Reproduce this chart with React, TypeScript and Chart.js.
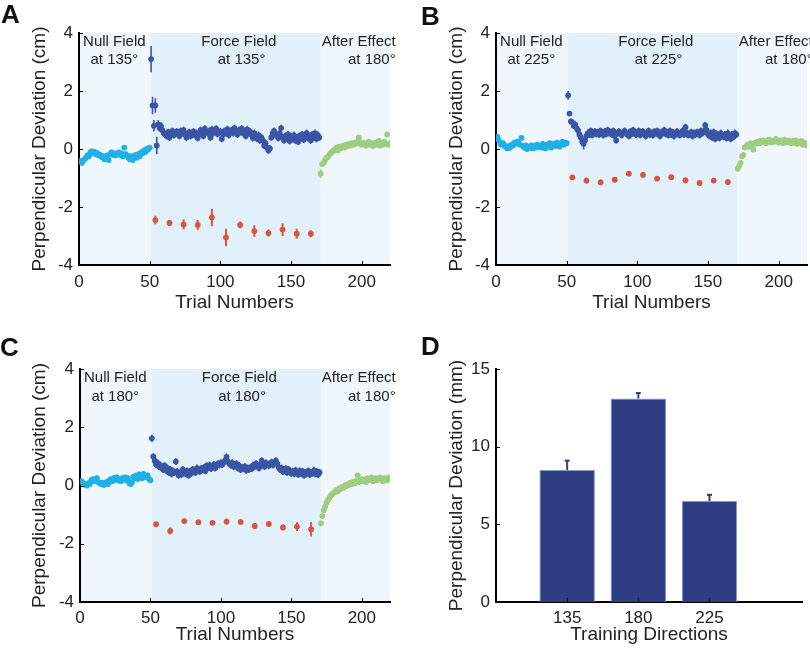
import React, { useEffect, useRef } from 'react';
import { Chart, registerables } from 'chart.js';
Chart.register(...registerables);

const AXIS_FONT = "'Liberation Sans', Arial, Helvetica, sans-serif";
const TEXT_COLOR = '#222222';

// ---------------- shared axis data ----------------
const trialTicks = [0, 50, 100, 150, 200];
const deviationTicks = [-4, -2, 0, 2, 4];
const probeTrials = [54, 64, 74, 84, 94, 104, 114, 124, 134, 144, 154, 164];
const nullStart = 1;
const forceStart = 51;
const afterStart = 171;

// ---------------- Panel A (135°) ----------------
const nullA = [
  -0.42, -0.48, -0.40, -0.35, -0.30, -0.22, -0.25, -0.12, -0.08, -0.15,
  -0.10, -0.18, -0.14, -0.22, -0.20, -0.28, -0.25, -0.35, -0.30, -0.22,
  -0.38, -0.18, -0.12, -0.20, -0.15, -0.22, -0.18, -0.12, -0.20, -0.15,
  -0.25, 0.05, -0.18, -0.22, -0.30, -0.35, -0.25, -0.38, -0.28, -0.20,
  -0.30, -0.18, -0.25, -0.12, -0.15, -0.05, -0.10, 0.00, -0.02, 0.05,
];
const forceA = [
  3.10, 1.50, 0.80, 1.50, 0.12, 0.85, 0.72, 0.80, 0.65, 0.55,
  0.50, 0.45, 0.58, 0.40, 0.55, 0.62, 0.48, 0.52, 0.60, 0.55,
  0.45, 0.62, 0.55, 0.65, 0.50, 0.40, 0.52, 0.58, 0.45, 0.55,
  0.60, 0.48, 0.55, 0.38, 0.50, 0.65, 0.55, 0.45, 0.70, 0.60,
  0.55, 0.62, 0.40, 0.68, 0.55, 0.62, 0.70, 0.52, 0.58, 0.60,
  0.35, 0.50, 0.62, 0.55, 0.68, 0.48, 0.60, 0.65, 0.55, 0.72,
  0.62, 0.50, 0.65, 0.58, 0.70, 0.55, 0.62, 0.45, 0.68, 0.55,
  0.60, 0.50, 0.38, 0.55, 0.42, 0.35, 0.48, 0.30, 0.40, 0.30,
  0.12, 0.20, 0.05, -0.05, 0.02, 0.40, 0.55, 0.62, 0.50, 0.45,
  0.38, 0.55, 0.72, 0.40, 0.30, 0.45, 0.35, 0.50, 0.28, 0.42,
  0.35, 0.48, 0.30, 0.40, 0.25, 0.45, 0.38, 0.50, 0.32, 0.42,
  0.55, 0.38, 0.45, 0.30, 0.50, 0.40, 0.55, 0.35, 0.48, 0.40,
];
const forceLeadErrA = [0.45, 0.3, 0.2, 0.25, 0.3, 0.15];
const afterA = [
  -0.85, -0.52, -0.48, -0.38, -0.30, -0.28, -0.20, -0.15, -0.10, -0.05,
  -0.02, 0.05, -0.05, 0.08, 0.02, 0.10, 0.12, 0.05, 0.15, 0.10,
  0.18, 0.12, 0.20, 0.15, 0.22, 0.18, 0.25, 0.40, 0.20, 0.15,
  0.22, 0.18, 0.12, 0.20, 0.25, 0.15, 0.20, 0.10, 0.18, 0.22,
  0.15, 0.28, 0.12, 0.20, 0.15, 0.25, 0.18, 0.50, 0.15, 0.20,
];
const afterLeadErrA = [0.15];
const probeA = [-2.45, -2.55, -2.60, -2.62, -2.36, -3.05, -2.62, -2.83, -2.90, -2.78, -2.92, -2.92];
const probeErrA = [0.15, 0.1, 0.17, 0.17, 0.3, 0.3, 0.12, 0.2, 0.12, 0.22, 0.17, 0.12];

// ---------------- Panel B (225°) ----------------
const nullB = [
  0.42, 0.30, 0.18, 0.15, 0.20, 0.12, 0.08, 0.02, 0.10, 0.05,
  0.15, 0.12, 0.22, 0.18, 0.25, 0.20, 0.15, 0.38, 0.10, 0.05,
  0.12, 0.00, 0.08, 0.05, 0.12, 0.02, 0.10, 0.05, 0.15, 0.08,
  0.10, 0.05, 0.18, 0.12, 0.02, 0.15, 0.08, 0.20, 0.05, 0.12,
  0.18, 0.10, 0.22, 0.15, 0.08, 0.20, 0.25, 0.15, 0.22, 0.20,
];
const forceB = [
  1.85, 1.22, 0.95, 0.92, 0.80, 0.85, 0.72, 0.65, 0.50, 0.40,
  0.25, 0.18, 0.30, 0.45, 0.55, 0.50, 0.62, 0.48, 0.55, 0.60,
  0.52, 0.58, 0.50, 0.62, 0.55, 0.48, 0.60, 0.52, 0.65, 0.55,
  0.58, 0.50, 0.62, 0.45, 0.30, 0.55, 0.60, 0.52, 0.48, 0.58,
  0.62, 0.55, 0.50, 0.45, 0.60, 0.52, 0.65, 0.58, 0.50, 0.55,
  0.62, 0.48, 0.55, 0.60, 0.52, 0.45, 0.58, 0.62, 0.50, 0.55,
  0.48, 0.60, 0.55, 0.62, 0.50, 0.45, 0.58, 0.55, 0.65, 0.52,
  0.55, 0.48, 0.62, 0.50, 0.58, 0.45, 0.55, 0.60, 0.52, 0.48,
  0.55, 0.62, 0.50, 0.75, 0.55, 0.48, 0.52, 0.58, 0.45, 0.55,
  0.50, 0.58, 0.55, 0.48, 0.62, 0.55, 0.60, 0.82, 0.65, 0.50,
  0.45, 0.55, 0.40, 0.58, 0.35, 0.52, 0.45, 0.38, 0.55, 0.48,
  0.42, 0.50, 0.38, 0.55, 0.45, 0.35, 0.50, 0.42, 0.55, 0.50,
];
const forceLeadErrB = [0.15, 0.08, 0.1, 0.1, 0.1, 0.1, 0.1, 0.1, 0.12, 0.15, 0.15, 0.2];
const afterB = [
  -0.68, -0.58, -0.48, -0.25, -0.20, 0.05, 0.10, 0.15, 0.08, 0.20,
  0.15, -0.02, 0.22, 0.18, 0.25, 0.20, 0.28, 0.22, 0.30, 0.25,
  0.20, 0.28, 0.32, 0.25, 0.22, 0.30, 0.25, 0.35, 0.28, 0.22,
  0.30, 0.25, 0.20, 0.32, 0.28, 0.22, 0.30, 0.25, 0.20, 0.28,
  0.22, 0.30, 0.18, 0.25, 0.20, 0.28, 0.15, 0.22, 0.18, 0.12,
];
const afterLeadErrB = [0.1];
const probeB = [-0.98, -1.09, -1.15, -1.06, -0.85, -0.89, -1.02, -0.97, -1.08, -1.17, -1.09, -1.14];
const probeErrB = [0.08, 0.1, 0.1, 0.06, 0.06, 0.1, 0.07, 0.08, 0.1, 0.08, 0.06, 0.1];

// ---------------- Panel C (180°) ----------------
const nullC = [
  0.15, 0.10, 0.05, 0.02, 0.00, 0.08, 0.05, 0.18, 0.22, 0.15,
  0.20, 0.25, 0.12, 0.08, 0.05, 0.10, 0.02, 0.08, 0.12, 0.05,
  0.18, 0.22, 0.15, 0.25, 0.20, 0.28, 0.18, 0.22, 0.15, 0.25,
  0.20, 0.28, 0.18, 0.25, 0.08, 0.05, 0.12, 0.30, 0.25, 0.35,
  0.22, 0.38, 0.30, 0.25, 0.40, 0.32, 0.28, 0.35, 0.22, 0.18,
];
const forceC = [
  1.62, 1.00, 0.85, 0.72, 0.78, 0.65, 0.70, 0.60, 0.55, 0.68,
  0.52, 0.60, 0.45, 0.55, 0.40, 0.50, 0.45, 0.82, 0.48, 0.35,
  0.42, 0.38, 0.55, 0.45, 0.40, 0.50, 0.35, 0.48, 0.42, 0.55,
  0.50, 0.45, 0.60, 0.52, 0.48, 0.58, 0.55, 0.62, 0.50, 0.68,
  0.62, 0.70, 0.58, 0.65, 0.72, 0.60, 0.68, 0.75, 0.70, 0.78,
  0.72, 0.80, 0.85, 0.98, 0.82, 0.75, 0.70, 0.78, 0.65, 0.72,
  0.75, 0.60, 0.68, 0.55, 0.62, 0.58, 0.65, 0.52, 0.60, 0.55,
  0.62, 0.58, 0.70, 0.65, 0.75, 0.68, 0.60, 0.72, 0.85, 0.70,
  0.65, 0.78, 0.72, 0.68, 0.75, 0.80, 0.70, 0.78, 0.85, 0.75,
  0.62, 0.55, 0.60, 0.48, 0.52, 0.58, 0.45, 0.55, 0.50, 0.42,
  0.48, 0.40, 0.52, 0.45, 0.38, 0.50, 0.42, 0.48, 0.35, 0.45,
  0.40, 0.50, 0.38, 0.45, 0.42, 0.52, 0.40, 0.48, 0.38, 0.45,
];
const forceLeadErrC = [0.12, 0.1];
const afterC = [
  -1.30, -1.05, -0.85, -0.72, -0.58, -0.50, -0.42, -0.35, -0.30, -0.25,
  -0.22, -0.15, -0.20, -0.10, -0.12, -0.05, -0.08, 0.00, -0.02, 0.05,
  0.02, 0.10, 0.05, 0.12, 0.08, 0.15, 0.35, 0.12, 0.18, 0.22,
  0.15, 0.20, 0.12, 0.25, 0.18, 0.22, 0.28, 0.15, 0.20, 0.25,
  0.18, 0.22, 0.28, 0.20, 0.15, 0.25, 0.22, 0.18, 0.28, 0.25,
];
const afterLeadErrC = [0.1];
const probeC = [-1.33, -1.56, -1.22, -1.26, -1.28, -1.24, -1.25, -1.39, -1.32, -1.44, -1.41, -1.50];
const probeErrC = [0.05, 0.12, 0.08, 0.07, 0.06, 0.1, 0.06, 0.1, 0.1, 0.1, 0.15, 0.25];

// typical error-bar half-lengths per phase
const nullErr = 0.09;
const forceErr = 0.12;
const afterErr = 0.08;

// ---------------- Panel D ----------------
const directionLabels = ['135', '180', '225'];
const directionPositions = [1, 2, 3];
const barValues = [8.5, 13.1, 6.5];
const barErrors = [0.6, 0.35, 0.4];
const mmTicks = [0, 5, 10, 15];

// ---------------- styles ----------------
const COLORS = {
  nullPts: '#1fb0e6',
  forcePts: '#3b54a6',
  afterPts: '#9fcc7f',
  probePts: '#d8553a',
  nullBg: '#eff7fd',
  forceBg: '#e1f0fa',
  afterBg: '#eff7fd',
  bar: '#2d3f82',
  barEdge: '#8797c9',
};

type Box = { left: number; top: number; w: number; h: number };

function pts(start: number, vals: number[]) {
  return vals.map((v, i) => ({ x: start + i, y: v }));
}
function errs(vals: number[], lead: number[], base: number) {
  return vals.map((_, i) => (i < lead.length ? lead[i] : base));
}

type ErrSet = { errs: number[]; color: string; upOnly?: boolean; cap?: number; width: number };

function decorPlugin(cfg: {
  regions?: { from: number; to: number; color: string }[];
  errorSets: ErrSet[];
  notes?: { text: string; x: number; y: number; align: CanvasTextAlign }[];
  xTickVals: number[];
  yTickVals: number[];
}) {
  return {
    id: 'decor',
    beforeDraw(chart: any) {
      const { ctx, chartArea: ca, scales } = chart;
      if (!cfg.regions) return;
      ctx.save();
      for (const r of cfg.regions) {
        const x0 = scales.x.getPixelForValue(r.from);
        const x1 = scales.x.getPixelForValue(r.to);
        ctx.fillStyle = r.color;
        ctx.fillRect(x0, ca.top, x1 - x0, ca.bottom - ca.top);
      }
      ctx.restore();
    },
    beforeDatasetsDraw(chart: any) {
      const { ctx, chartArea: ca, scales } = chart;
      ctx.save();
      ctx.beginPath();
      ctx.rect(ca.left, ca.top - 20, ca.right - ca.left, ca.bottom - ca.top + 20);
      ctx.clip();
      cfg.errorSets.forEach((es, di) => {
        const ds = chart.data.datasets[di];
        const meta = chart.getDatasetMeta(di);
        ctx.strokeStyle = es.color;
        ctx.lineWidth = es.width;
        ds.data.forEach((p: any, j: number) => {
          const el = meta.data[j];
          if (!el) return;
          const x = el.x;
          const yTop = scales.y.getPixelForValue(p.y + es.errs[j]);
          const yBot = es.upOnly ? scales.y.getPixelForValue(p.y) : scales.y.getPixelForValue(p.y - es.errs[j]);
          ctx.beginPath();
          ctx.moveTo(x, yBot);
          ctx.lineTo(x, yTop);
          ctx.stroke();
          if (es.cap) {
            ctx.beginPath();
            ctx.moveTo(x - es.cap / 2, yTop);
            ctx.lineTo(x + es.cap / 2, yTop);
            ctx.stroke();
          }
        });
      });
      ctx.restore();
    },
    afterDraw(chart: any) {
      const { ctx, chartArea: ca, scales } = chart;
      ctx.save();
      ctx.strokeStyle = '#000';
      ctx.lineWidth = 1;
      for (const v of cfg.xTickVals) {
        const x = Math.round(scales.x.getPixelForValue(v)) + 0.5;
        ctx.beginPath();
        ctx.moveTo(x, ca.bottom);
        ctx.lineTo(x, ca.bottom - 4);
        ctx.stroke();
      }
      for (const v of cfg.yTickVals) {
        const y = Math.round(scales.y.getPixelForValue(v)) + 0.5;
        ctx.beginPath();
        ctx.moveTo(ca.left, y);
        ctx.lineTo(ca.left + 4, y);
        ctx.stroke();
      }
      if (cfg.notes) {
        ctx.font = `15px ${AXIS_FONT}`;
        ctx.fillStyle = TEXT_COLOR;
        ctx.textBaseline = 'middle';
        for (const n of cfg.notes) {
          ctx.textAlign = n.align;
          ctx.fillText(n.text, scales.x.getPixelForValue(n.x), scales.y.getPixelForValue(n.y));
        }
      }
      ctx.restore();
    },
  };
}

type Geo = {
  padTop: number; padRight: number; yw: number; xh: number;
  yTitlePad: number; xTitlePad: number; xTickPad: number; yTickPad: number;
};

const tickFont = { family: AXIS_FONT, size: 17 };
const titleFont = { family: AXIS_FONT, size: 19 };

function buildTrialChart(
  canvas: HTMLCanvasElement,
  g: Geo,
  series: { nul: number[]; force: number[]; after: number[]; probe: number[]; probeErr: number[]; forceLead: number[]; afterLead: number[] },
  angles: string[],
) {
  const datasets = [
    { data: pts(nullStart, series.nul), color: COLORS.nullPts },
    { data: pts(forceStart, series.force), color: COLORS.forcePts },
    { data: pts(afterStart, series.after), color: COLORS.afterPts },
    { data: probeTrials.map((t, i) => ({ x: t, y: series.probe[i] })), color: COLORS.probePts },
  ].map((d) => ({
    data: d.data,
    backgroundColor: d.color,
    pointBackgroundColor: d.color,
    pointRadius: 2.9,
    pointHoverRadius: 2.9,
    pointBorderWidth: 0,
    showLine: false,
  }));
  const errorSets: ErrSet[] = [
    { errs: errs(series.nul, [], nullErr), color: COLORS.nullPts, width: 1.6 },
    { errs: errs(series.force, series.forceLead, forceErr), color: COLORS.forcePts, width: 1.6 },
    { errs: errs(series.after, series.afterLead, afterErr), color: COLORS.afterPts, width: 1.6 },
    { errs: series.probeErr, color: COLORS.probePts, width: 2 },
  ];
  const noteY1 = 3.68;
  const noteY2 = 3.06;
  const notes = [
    { text: 'Null Field', x: 25, y: noteY1, align: 'center' as CanvasTextAlign },
    { text: `at ${angles[0]}°`, x: 25, y: noteY2, align: 'center' as CanvasTextAlign },
    { text: 'Force Field', x: 113, y: noteY1, align: 'center' as CanvasTextAlign },
    { text: `at ${angles[1]}°`, x: 115, y: noteY2, align: 'center' as CanvasTextAlign },
    { text: 'After Effect', x: 224, y: noteY1, align: 'right' as CanvasTextAlign },
    { text: `at ${angles[2]}°`, x: 224, y: noteY2, align: 'right' as CanvasTextAlign },
  ];
  return new Chart(canvas, {
    type: 'scatter',
    data: { datasets: datasets as any },
    options: {
      animation: false,
      responsive: false,
      maintainAspectRatio: false,
      events: [],
      layout: { padding: { left: 0, top: g.padTop, right: g.padRight, bottom: 0 } },
      plugins: { legend: { display: false }, tooltip: { enabled: false } },
      scales: {
        x: {
          type: 'linear',
          min: 0,
          max: 220,
          afterBuildTicks: (s: any) => { s.ticks = trialTicks.map((v) => ({ value: v })); },
          afterFit: (s: any) => { s.height = g.xh; },
          grid: { display: false, drawTicks: false },
          border: { display: true, color: '#000', width: 2 },
          ticks: { font: tickFont, color: TEXT_COLOR, padding: g.xTickPad, maxRotation: 0, autoSkip: false },
          title: { display: true, text: 'Trial Numbers', font: titleFont, color: TEXT_COLOR, padding: { top: 0, bottom: g.xTitlePad } },
        },
        y: {
          type: 'linear',
          min: -4,
          max: 4,
          afterBuildTicks: (s: any) => { s.ticks = deviationTicks.map((v) => ({ value: v })); },
          afterFit: (s: any) => { s.width = g.yw; },
          grid: { display: false, drawTicks: false },
          border: { display: true, color: '#000', width: 2 },
          ticks: { font: tickFont, color: TEXT_COLOR, padding: g.yTickPad },
          title: { display: true, text: 'Perpendicular Deviation (cm)', font: titleFont, color: TEXT_COLOR, padding: { top: g.yTitlePad, bottom: 0 } },
        },
      },
    } as any,
    plugins: [
      decorPlugin({
        regions: [
          { from: 0, to: 51, color: COLORS.nullBg },
          { from: 51, to: 171, color: COLORS.forceBg },
          { from: 171, to: 220, color: COLORS.afterBg },
        ],
        errorSets,
        notes,
        xTickVals: trialTicks.slice(1),
        yTickVals: deviationTicks,
      }) as any,
    ],
  });
}

function buildBarChart(canvas: HTMLCanvasElement, g: Geo) {
  return new Chart(canvas, {
    type: 'bar',
    data: {
      datasets: [
        {
          data: directionPositions.map((p, i) => ({ x: p, y: barValues[i] })),
          backgroundColor: COLORS.bar,
          borderColor: COLORS.barEdge,
          borderWidth: 1,
          barPercentage: 1,
          categoryPercentage: 0.78,
        },
      ] as any,
    },
    options: {
      animation: false,
      responsive: false,
      maintainAspectRatio: false,
      events: [],
      layout: { padding: { left: 0, top: g.padTop, right: g.padRight, bottom: 0 } },
      plugins: { legend: { display: false }, tooltip: { enabled: false } },
      scales: {
        x: {
          type: 'linear',
          min: 0,
          max: 4.3,
          offset: false,
          afterBuildTicks: (s: any) => { s.ticks = directionPositions.map((v) => ({ value: v })); },
          afterFit: (s: any) => { s.height = g.xh; },
          grid: { display: false, drawTicks: false, offset: false },
          border: { display: true, color: '#000', width: 2 },
          ticks: {
            font: tickFont, color: TEXT_COLOR, padding: g.xTickPad, maxRotation: 0, autoSkip: false,
            callback: (_v: any, i: number) => directionLabels[i],
          },
          title: { display: true, text: 'Training Directions', font: titleFont, color: TEXT_COLOR, padding: { top: 0, bottom: g.xTitlePad } },
        },
        y: {
          type: 'linear',
          min: 0,
          max: 15,
          afterBuildTicks: (s: any) => { s.ticks = mmTicks.map((v) => ({ value: v })); },
          afterFit: (s: any) => { s.width = g.yw; },
          grid: { display: false, drawTicks: false },
          border: { display: true, color: '#000', width: 2 },
          ticks: { font: tickFont, color: TEXT_COLOR, padding: g.yTickPad },
          title: { display: true, text: 'Perpendicular Deviation (mm)', font: titleFont, color: TEXT_COLOR, padding: { top: g.yTitlePad, bottom: 0 } },
        },
      },
    } as any,
    plugins: [
      decorPlugin({
        errorSets: [{ errs: barErrors, color: COLORS.bar, upOnly: true, cap: 5, width: 2 }],
        xTickVals: directionPositions,
        yTickVals: mmTicks.slice(1),
      }) as any,
    ],
  });
}

function Panel({ box, build }: { box: Box; build: (c: HTMLCanvasElement) => Chart }) {
  const ref = useRef<HTMLCanvasElement>(null);
  useEffect(() => {
    const chart = build(ref.current as HTMLCanvasElement);
    return () => chart.destroy();
  }, []);
  return (
    <canvas
      ref={ref}
      width={box.w}
      height={box.h}
      style={{ position: 'absolute', left: box.left, top: box.top, width: box.w, height: box.h, display: 'block' }}
    />
  );
}

const geoA: Geo = { padTop: 33, padRight: 15, yw: 79, xh: 60, yTitlePad: 28.6, xTitlePad: 10.5, xTickPad: 7, yTickPad: 6 };
const geoB: Geo = { padTop: 33, padRight: 3, yw: 86, xh: 60, yTitlePad: 35.4, xTitlePad: 10.5, xTickPad: 7, yTickPad: 6 };
const geoC: Geo = { padTop: 39, padRight: 15, yw: 80, xh: 48, yTitlePad: 28.6, xTitlePad: 3.5, xTickPad: 6, yTickPad: 6 };
const geoD: Geo = { padTop: 39, padRight: 8, yw: 86, xh: 48, yTitlePad: 35.4, xTitlePad: 3.5, xTickPad: 6, yTickPad: 6 };

const letterStyle = (left: number, top: number): React.CSSProperties => ({
  position: 'absolute',
  left,
  top,
  font: `bold 26px ${AXIS_FONT}`,
  lineHeight: '26px',
  color: '#111',
});

export default function App() {
  return (
    <div style={{ position: 'absolute', left: 0, top: 0, width: 810, height: 650, background: '#fff', overflow: 'hidden' }}>
      <Panel
        box={{ left: 0, top: 0, w: 405, h: 325 }}
        build={(c) => buildTrialChart(c, geoA, { nul: nullA, force: forceA, after: afterA, probe: probeA, probeErr: probeErrA, forceLead: forceLeadErrA, afterLead: afterLeadErrA }, ['135', '135', '180'])}
      />
      <Panel
        box={{ left: 410, top: 0, w: 400, h: 325 }}
        build={(c) => buildTrialChart(c, geoB, { nul: nullB, force: forceB, after: afterB, probe: probeB, probeErr: probeErrB, forceLead: forceLeadErrB, afterLead: afterLeadErrB }, ['225', '225', '180'])}
      />
      <Panel
        box={{ left: 0, top: 330, w: 405, h: 320 }}
        build={(c) => buildTrialChart(c, geoC, { nul: nullC, force: forceC, after: afterC, probe: probeC, probeErr: probeErrC, forceLead: forceLeadErrC, afterLead: afterLeadErrC }, ['180', '180', '180'])}
      />
      <Panel box={{ left: 410, top: 330, w: 400, h: 320 }} build={(c) => buildBarChart(c, geoD)} />
      <div style={letterStyle(1, 1)}>A</div>
      <div style={letterStyle(421, 3)}>B</div>
      <div style={letterStyle(0, 334)}>C</div>
      <div style={letterStyle(421, 333)}>D</div>
    </div>
  );
}
